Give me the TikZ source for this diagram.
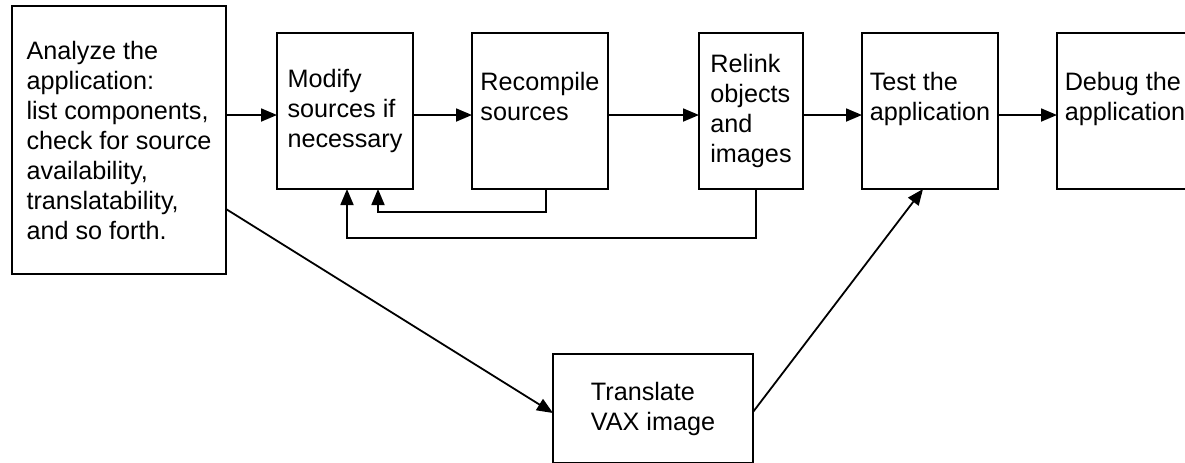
\documentclass[tikz,border=0pt]{standalone}
\usepackage{fontspec}
\setmainfont{Liberation Sans}
\usetikzlibrary{positioning,arrows.meta}

\begin{document}
\begin{tikzpicture}[x=0.5pt,y=-0.5pt,line width=0.9pt,>={Triangle[length=8pt,width=6.5pt]}]
	\tikzstyle{block}=[rectangle,draw,align=left,inner sep=0pt,outer sep=0pt,font=\fontsize{12.6}{15}\selectfont]
	\useasboundingbox (0,0) rectangle (1185,462);
		\node[block, minimum width=107pt, minimum height=134pt] (analyze) at (119,140) {Analyze the\\application:\\list components,\\check for source\\availability,\\translatability,\\and so forth.};
		\node[block, minimum width=68pt, minimum height=78pt] (modify) [below right=13.5pt and 25.5pt of analyze.north east] {Modify\\sources if\\necessary};
		\node[block, minimum width=68pt, minimum height=78pt] (recompile) [right=29.5pt of modify] {Recompile\\sources\\\mbox{}};
		\node[block, minimum width=52pt, minimum height=78pt] (relink) [right=45.5pt of recompile] {Relink\\objects\\and\\images};
		\node[block, minimum width=68pt, minimum height=78pt] (test) [right=29.5pt of relink] {Test the\\application\\\mbox{}};
		\node[block, minimum width=68pt, minimum height=78pt] (debug) [right=29.5pt of test] {Debug the\\application\\\mbox{}};
		\node[block, minimum width=100pt, minimum height=54.5pt] (translate) [below right=40pt and 163.5pt of analyze.south east] {Translate\\VAX image};
			\draw[->] ([yshift=12.5pt]analyze.east) -- ([yshift=-2pt]modify.west);
			\draw[->] ([yshift=-2pt]modify.east) -- ([yshift=-2pt]recompile.west);
			\draw[->] ([yshift=-2pt]recompile.east) -- ([yshift=-2pt]relink.west);
			\draw[->] ([yshift=-2pt]relink.east) -- ([yshift=-2pt]test.west);
			\draw[->] ([yshift=-2pt]test.east) -- ([yshift=-2pt]debug.west);
			\draw[->] ([xshift=3pt]recompile.south) -- ++(0,-11.5pt) -| ([xshift=16.5pt]modify.south);
			\draw[->] ([xshift=2.5pt]relink.south) -- ++(0,-24.5pt) -| ([xshift=1pt]modify.south);
			\draw[->] ([yshift=-34.5pt]analyze.east) -- ([yshift=-2.25pt]translate.west);
			\draw[->] ([yshift=-1.75pt]translate.east) -- ([xshift=-3.5pt]test.south);
\end{tikzpicture}
\end{document}
